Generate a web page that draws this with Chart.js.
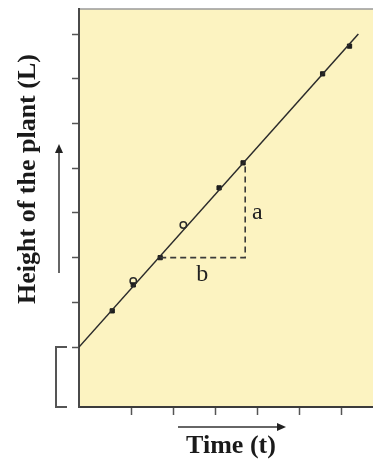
<!DOCTYPE html>
<html lang="en">
<head>
    <meta charset="UTF-8">
    <title>Height of the plant vs Time</title>
    <script src="https://cdn.jsdelivr.net/npm/chart.js@4.4.0/dist/chart.umd.min.js"></script>
    <style>
        html, body { margin: 0; background: #fff; overflow: hidden; }
        /* slightly wider than the window so the yellow plot runs off the right edge */
        #chart-container { width: 379px; height: 462px; }
    </style>
</head>
<body>
    <div id="chart-container">
        <canvas id="plantChart"></canvas>
    </div>

    <script>
        // measured points (time, height)
        const timeVals   = [0.79, 1.29, 1.93, 3.33, 3.90, 5.79, 6.43];
        const heightVals = [0.81, 1.39, 2.00, 3.56, 4.12, 6.11, 6.73];
        // the two open circles
        const openTime   = [1.29, 2.48];
        const openHeight = [1.48, 2.73];
        // best fit straight line
        const lineTime   = [0, 6.64];
        const lineHeight = [0, 7.0];
        // dashed triangle for the slope (b across, a up)
        const dashTime   = [1.93, 3.95, 3.95];
        const dashHeight = [2.00, 2.00, 4.12];
        // tick positions (no labels)
        const xTickVals = [1.25, 2.25, 3.25, 4.25, 5.25, 6.25];
        const yTickVals = [0, 1, 2, 3, 4, 5, 6, 7];
        // slope labels
        const slopeLabels = ['a', 'b'];
        const slopeLabelTime   = [4.24, 2.93];
        const slopeLabelHeight = [3.00, 1.62];

        const toXY = (xs, ys) => xs.map((x, i) => ({ x: x, y: ys[i] }));

        // yellow plot area + top border
        const plotBackground = {
            id: 'plotBackground',
            beforeDraw(chart) {
                const { ctx, chartArea: a } = chart;
                ctx.save();
                ctx.fillStyle = '#fcf3c1';
                ctx.fillRect(a.left, a.top, a.right - a.left, a.bottom - a.top);
                ctx.strokeStyle = '#9a9a9a';
                ctx.lineWidth = 1.5;
                ctx.beginPath();
                ctx.moveTo(a.left, a.top);
                ctx.lineTo(a.right, a.top);
                ctx.stroke();
                ctx.restore();
            }
        };

        function arrow(ctx, x1, y1, x2, y2) {
            const ang = Math.atan2(y2 - y1, x2 - x1);
            ctx.beginPath();
            ctx.moveTo(x1, y1);
            ctx.lineTo(x2 - 6 * Math.cos(ang), y2 - 6 * Math.sin(ang));
            ctx.stroke();
            ctx.beginPath();
            ctx.moveTo(x2, y2);
            ctx.lineTo(x2 - 9 * Math.cos(ang) + 4 * Math.sin(ang), y2 - 9 * Math.sin(ang) - 4 * Math.cos(ang));
            ctx.lineTo(x2 - 9 * Math.cos(ang) - 4 * Math.sin(ang), y2 - 9 * Math.sin(ang) + 4 * Math.cos(ang));
            ctx.closePath();
            ctx.fill();
        }

        // titles, arrows, broken-axis bracket and a/b labels
        const decorations = {
            id: 'decorations',
            afterDraw(chart) {
                const { ctx, chartArea: a, scales } = chart;
                const xs = scales.x, ys = scales.y;
                ctx.save();

                // a / b
                ctx.fillStyle = '#222';
                ctx.font = '24px "Liberation Serif"';
                ctx.textAlign = 'center';
                ctx.textBaseline = 'middle';
                slopeLabels.forEach((t, i) => {
                    ctx.fillText(t, xs.getPixelForValue(slopeLabelTime[i]), ys.getPixelForValue(slopeLabelHeight[i]));
                });

                // axis titles
                ctx.fillStyle = '#1a1a1a';
                ctx.font = 'bold 26px "Liberation Serif"';
                ctx.fillText('Time (t)', 231, 446);
                ctx.save();
                ctx.translate(28, 179);
                ctx.rotate(-Math.PI / 2);
                ctx.fillText('Height of the plant (L)', 0, 0);
                ctx.restore();

                // arrows
                ctx.strokeStyle = '#333';
                ctx.fillStyle = '#222';
                ctx.lineWidth = 1.5;
                arrow(ctx, 59, 273, 59, 144);
                arrow(ctx, 178, 427, 286, 427);

                // bracket for the broken y axis
                const yZero = ys.getPixelForValue(0);
                ctx.strokeStyle = '#555';
                ctx.lineWidth = 2;
                ctx.beginPath();
                ctx.moveTo(67, yZero);
                ctx.lineTo(56, yZero);
                ctx.lineTo(56, a.bottom);
                ctx.lineTo(67, a.bottom);
                ctx.stroke();

                ctx.restore();
            }
        };

        const ctx = document.getElementById('plantChart').getContext('2d');
        new Chart(ctx, {
            type: 'scatter',
            data: {
                datasets: [
                    {
                        label: 'fit',
                        data: toXY(lineTime, lineHeight),
                        showLine: true,
                        borderColor: '#2b2b2b',
                        borderWidth: 1.5,
                        pointRadius: 0
                    },
                    {
                        label: 'slope',
                        data: toXY(dashTime, dashHeight),
                        showLine: true,
                        borderColor: '#3a3a3a',
                        borderWidth: 1.6,
                        borderDash: [6, 4],
                        pointRadius: 0
                    },
                    {
                        label: 'points',
                        data: toXY(timeVals, heightVals),
                        backgroundColor: '#1e1e1e',
                        borderColor: '#1e1e1e',
                        pointStyle: 'rect',
                        pointRadius: 3
                    },
                    {
                        label: 'open',
                        data: toXY(openTime, openHeight),
                        backgroundColor: 'rgba(0,0,0,0)',
                        borderColor: '#2a2a2a',
                        borderWidth: 1.5,
                        pointRadius: 3.2
                    }
                ]
            },
            options: {
                responsive: true,
                maintainAspectRatio: false,
                animation: false,
                layout: { padding: { left: 72, top: 9, right: 0, bottom: 47 } },
                plugins: {
                    legend: { display: false },
                    tooltip: { enabled: false }
                },
                scales: {
                    x: {
                        type: 'linear',
                        min: 0,
                        max: 7,
                        afterBuildTicks: s => { s.ticks = xTickVals.map(v => ({ value: v })); },
                        ticks: { display: false },
                        grid: { drawOnChartArea: false, tickLength: 8, tickColor: '#555', tickWidth: 1.5 },
                        border: { color: '#3c3c3c', width: 2 }
                    },
                    y: {
                        type: 'linear',
                        min: -1.34,
                        max: 7.56,
                        afterBuildTicks: s => { s.ticks = yTickVals.map(v => ({ value: v })); },
                        ticks: { display: false },
                        grid: { drawOnChartArea: false, tickLength: 7, tickColor: '#555', tickWidth: 1.5 },
                        border: { color: '#4a4a4a', width: 2 }
                    }
                }
            },
            plugins: [plotBackground, decorations]
        });
    </script>
</body>
</html>
